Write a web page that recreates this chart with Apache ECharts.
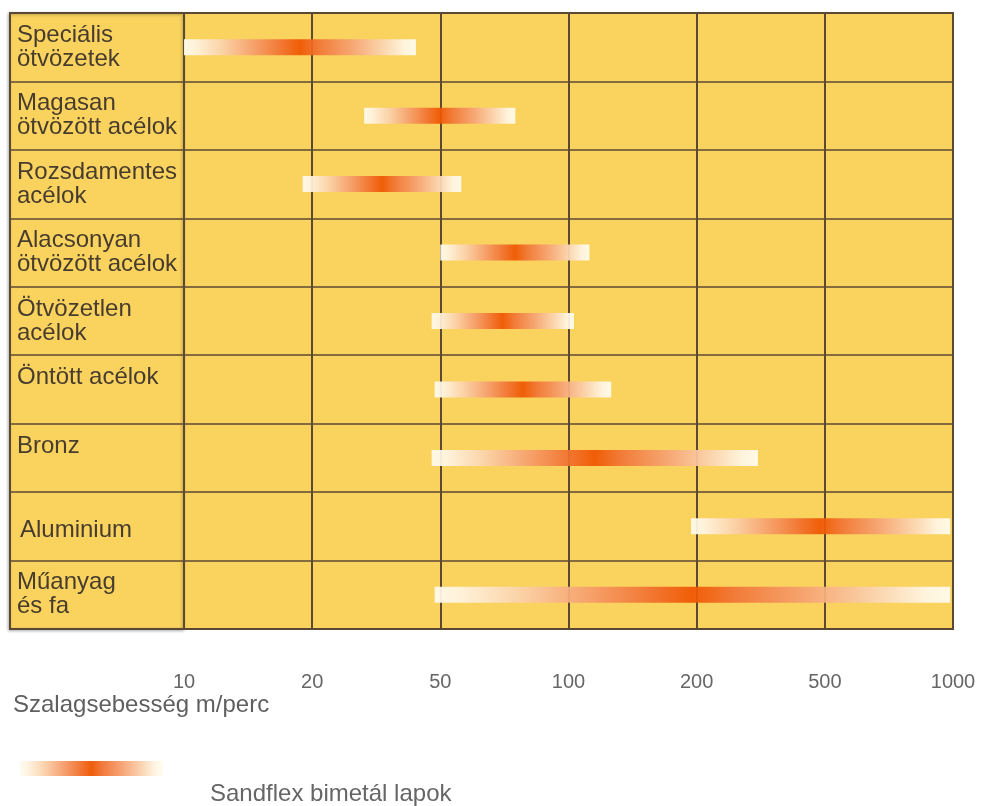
<!DOCTYPE html>
<html>
<head>
<meta charset="utf-8">
<script src="https://cdn.jsdelivr.net/npm/echarts@6/dist/echarts.min.js"></script>
<style>
html,body{margin:0;padding:0;background:#ffffff;}
#chart{width:982px;height:806px;}
</style>
</head>
<body>
<div id="chart"></div>
<script>
// ---- data ----
const categories = [
  'Speciális\nötvözetek',
  'Magasan\nötvözött acélok',
  'Rozsdamentes\nacélok',
  'Alacsonyan\nötvözött acélok',
  'Ötvözetlen\nacélok',
  'Öntött acélok',
  'Bronz',
  'Aluminium',
  'Műanyag\nés fa'
];
// band speed range, m/perc
const speedStart = [10, 29, 19, 50, 47, 48, 47, 194, 48];
const speedEnd   = [42, 75, 56, 112, 103, 126, 310, 985, 985];
const tickValues = [10, 20, 50, 100, 200, 500, 1000];
const tickLabels = ['10', '20', '50', '100', '200', '500', '1000'];
const axisTitle = 'Szalagsebesség m/perc';
const seriesName = 'Sandflex bimetál lapok';

// ---- scale: evenly spaced 10-20-50-100... ticks, logarithmic within each step ----
function pos(v) {
  for (let k = 0; k < tickValues.length - 1; k++) {
    const lo = tickValues[k], hi = tickValues[k + 1];
    if (v <= hi || k === tickValues.length - 2) {
      return k + Math.log(v / lo) / Math.log(hi / lo);
    }
  }
  return 0;
}

const FONT = "'Liberation Sans', Arial, Helvetica, sans-serif";
const LINE = '#5b4934';
const BG = '#f9d35e';

function bandGradient() {
  return new echarts.graphic.LinearGradient(0, 0, 1, 0, [
    { offset: 0.00, color: '#fffbee' },
    { offset: 0.05, color: '#fff4e2' },
    { offset: 0.16, color: '#fbd4ae' },
    { offset: 0.30, color: '#f69e6c' },
    { offset: 0.42, color: '#f1702e' },
    { offset: 0.50, color: '#ef5500' },
    { offset: 0.58, color: '#f17434' },
    { offset: 0.72, color: '#f6a272' },
    { offset: 0.86, color: '#fbd6b4' },
    { offset: 0.95, color: '#fff6e6' },
    { offset: 1.00, color: '#fffcf0' }
  ]);
}

const chart = echarts.init(document.getElementById('chart'), null, { renderer: 'canvas' });

const option = {
  backgroundColor: '#ffffff',
  animation: false,
  title: {
    text: axisTitle,
    left: 13,
    top: 693,
    padding: 0,
    textStyle: { fontFamily: FONT, fontSize: 24, fontWeight: 'normal', color: '#5f5f5f' }
  },
  grid: [
    { left: 184, right: 29, top: 13, bottom: 177, show: true, backgroundColor: BG, borderColor: LINE, borderWidth: 2 },
    { left: 10, width: 174, top: 13, bottom: 177, show: true, backgroundColor: BG, borderColor: LINE, borderWidth: 2,
      shadowColor: 'rgba(0,0,0,0.25)', shadowBlur: 3, shadowOffsetX: -1, shadowOffsetY: 1 }
  ],
  xAxis: [
    {
      gridIndex: 0, type: 'value', min: 0, max: 6, interval: 1,
      axisLine: { show: false }, axisTick: { show: false },
      splitLine: { show: true, lineStyle: { color: LINE, width: 2 } },
      axisLabel: {
        margin: 43, showMinLabel: true, showMaxLabel: true,
        fontFamily: FONT, fontSize: 20, color: '#666666',
        formatter: v => tickLabels[Math.round(v)]
      }
    },
    { gridIndex: 1, type: 'value', min: 0, max: 1, show: false }
  ],
  yAxis: [
    {
      gridIndex: 0, type: 'category', data: categories, inverse: true,
      axisLine: { show: false }, axisTick: { show: false }, axisLabel: { show: false },
      splitLine: { show: true, interval: 0, lineStyle: { color: LINE, width: 1.5 } }
    },
    {
      gridIndex: 1, type: 'category', data: categories, inverse: true, position: 'left',
      axisLine: { show: false }, axisTick: { show: false },
      splitLine: { show: true, interval: 0, lineStyle: { color: LINE, width: 1.5 } },
      axisLabel: {
        inside: true, margin: 7, interval: 0,
        fontFamily: FONT, fontSize: 24, lineHeight: 24, color: '#473c2e',
        formatter: function (v) {
          if (v === 'Aluminium') return '{al|' + v + '}';
          return v.indexOf('\n') >= 0 ? v : v + '\n ';
        },
        rich: {
          al: { fontFamily: FONT, fontSize: 24, lineHeight: 24, color: '#473c2e', padding: [8, 0, 0, 3] }
        }
      }
    }
  ],
  series: [
    {
      type: 'custom',
      name: seriesName,
      xAxisIndex: 0,
      yAxisIndex: 0,
      encode: { x: [1, 2], y: 0 },
      data: categories.map((c, i) => [i, pos(speedStart[i]), pos(speedEnd[i])]),
      renderItem: function (params, api) {
        const y = api.value(0);
        const a = api.coord([api.value(1), y]);
        const b = api.coord([api.value(2), y]);
        const h = 16;
        return {
          type: 'rect',
          shape: { x: a[0], y: a[1] - h / 2, width: b[0] - a[0], height: h },
          style: { fill: bandGradient(), opacity: 0.93 }
        };
      }
    }
  ],
  graphic: [
    {
      type: 'rect', left: 20, top: 761,
      shape: { width: 143, height: 15 },
      style: { fill: bandGradient(), opacity: 0.95 }
    },
    {
      type: 'text', left: 210, top: 782,
      style: { text: seriesName, fontFamily: FONT, fontSize: 24, fill: '#666666' }
    }
  ]
};

chart.setOption(option);
</script>
</body>
</html>
